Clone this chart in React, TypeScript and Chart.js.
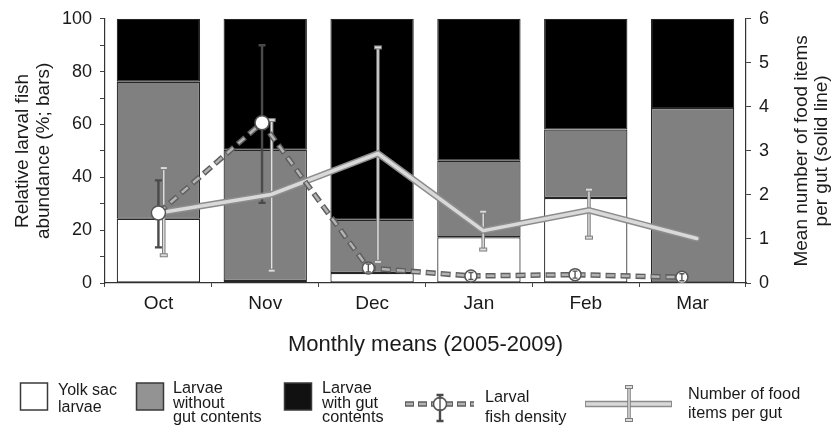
import React, { useEffect, useRef } from 'react';
import { Chart, registerables } from 'chart.js';

Chart.register(...registerables);

// ---------- data ----------
const months = ['Oct', 'Nov', 'Dec', 'Jan', 'Feb', 'Mar'];

// relative larval fish abundance (%), stacked bars
const yolkSac = [24.3, 0.8, 3.8, 17.3, 32.2, 0];
const withoutGut = [51.9, 49.6, 20.1, 29.0, 25.9, 66.2];
const withGut = [23.8, 49.6, 76.1, 53.7, 41.9, 33.8];

// mean number of food items per gut (solid line, right axis)
const foodPos = [0, 1.055, 2.055, 3.04, 4.03, 5.04];
const foodMean = [1.59, 2.01, 2.94, 1.19, 1.65, 1.01];
const foodErrPos = [0.05, 1.06, 2.055, 3.04, 4.03];
const foodLow = [0.63, 0.28, 0.48, 0.76, 1.03];
const foodHigh = [2.61, 3.7, 5.35, 1.62, 2.12];

// larval fish density (dashed line)
const densityPos = [0, 0.97, 1.965, 2.925, 3.9, 4.9];
const density = [1.59, 3.64, 0.34, 0.16, 0.19, 0.13];
const densityLow = [0.81, 1.82, 0.25, 0.08, 0.11, 0.05];
const densityHigh = [2.33, 5.4, 0.43, 0.24, 0.27, 0.21];

const leftTitle = ['Relative larval fish', 'abundance (%; bars)'];
const rightTitle = ['Mean number of food items', 'per gut (solid line)'];
const xTitle = 'Monthly means (2005-2009)';

const FONT = '"Liberation Sans", Arial, Helvetica, sans-serif';
const TEXT = '#1a1a1a';

// ---------- drawing helpers ----------
function drawFoodErr(ctx: CanvasRenderingContext2D, x: number, yT: number, yB: number) {
  ctx.save();
  ctx.lineCap = 'butt';
  ctx.strokeStyle = '#7d7d7d';
  ctx.lineWidth = 3.5;
  ctx.beginPath();
  ctx.moveTo(x, yT);
  ctx.lineTo(x, yB);
  ctx.stroke();
  ctx.strokeStyle = '#e2e2e2';
  ctx.lineWidth = 1.4;
  ctx.beginPath();
  ctx.moveTo(x, yT);
  ctx.lineTo(x, yB);
  ctx.stroke();
  for (const y of [yT, yB]) {
    ctx.fillStyle = '#dcdcdc';
    ctx.strokeStyle = '#7d7d7d';
    ctx.lineWidth = 1;
    ctx.fillRect(x - 3.5, y - 1.5, 7, 3);
    ctx.strokeRect(x - 3.5, y - 1.5, 7, 3);
  }
  ctx.restore();
}

function drawDensityErr(ctx: CanvasRenderingContext2D, x: number, yT: number, yB: number, small: boolean) {
  ctx.save();
  ctx.strokeStyle = small ? '#555555' : '#4a4a4a';
  ctx.lineWidth = small ? 1.4 : 2.4;
  ctx.lineCap = 'butt';
  ctx.beginPath();
  ctx.moveTo(x, yT);
  ctx.lineTo(x, yB);
  const w = small ? 2.5 : 3.5;
  ctx.moveTo(x - w, yT);
  ctx.lineTo(x + w, yT);
  ctx.moveTo(x - w, yB);
  ctx.lineTo(x + w, yB);
  ctx.stroke();
  ctx.restore();
}

function drawErrors(chart: any, smallOnly: boolean) {
  const ctx: CanvasRenderingContext2D = chart.ctx;
  const xs = chart.scales.xl;
  const ys = chart.scales.yr;
  if (!smallOnly) {
    foodLow.forEach((lo, i) => {
      const x = xs.getPixelForValue(foodErrPos[i]);
      drawFoodErr(ctx, x, ys.getPixelForValue(foodHigh[i]), ys.getPixelForValue(lo));
    });
  }
  density.forEach((_v, i) => {
    const x = xs.getPixelForValue(densityPos[i]);
    const yT = ys.getPixelForValue(densityHigh[i]);
    const yB = ys.getPixelForValue(densityLow[i]);
    const small = yB - yT < 14;
    if (small === smallOnly) drawDensityErr(ctx, x, yT, yB, small);
  });
}

function textLines(ctx: CanvasRenderingContext2D, lines: string[], x: number, yCenters: number[], size: number) {
  ctx.font = `${size}px ${FONT}`;
  ctx.fillStyle = TEXT;
  ctx.textAlign = 'left';
  ctx.textBaseline = 'middle';
  lines.forEach((l, i) => ctx.fillText(l, x, yCenters[i]));
}

function drawRotated(ctx: CanvasRenderingContext2D, lines: string[], xs: number[], y: number, size: number) {
  ctx.font = `${size}px ${FONT}`;
  ctx.fillStyle = TEXT;
  ctx.textAlign = 'center';
  ctx.textBaseline = 'middle';
  lines.forEach((l, i) => {
    ctx.save();
    ctx.translate(xs[i], y);
    ctx.rotate(-Math.PI / 2);
    ctx.fillText(l, 0, 0);
    ctx.restore();
  });
}

function drawLegend(ctx: CanvasRenderingContext2D) {
  ctx.save();
  const box = (x: number, fill: string) => {
    ctx.fillStyle = fill;
    ctx.fillRect(x, 383, 27, 27);
    ctx.strokeStyle = '#3a3a3a';
    ctx.lineWidth = 1.5;
    ctx.strokeRect(x, 383, 27, 27);
  };
  box(20.5, '#ffffff');
  textLines(ctx, ['Yolk sac', 'larvae'], 58, [391, 408], 16);
  box(136.5, '#939393');
  textLines(ctx, ['Larvae', 'without', 'gut contents'], 173, [389, 403.5, 418], 16.3);
  box(284.5, '#111111');
  textLines(ctx, ['Larvae', 'with gut', 'contents'], 322, [389, 403.5, 418], 16.3);

  // dashed density symbol
  ctx.lineCap = 'butt';
  ctx.strokeStyle = '#5f5f5f';
  ctx.lineWidth = 5.5;
  ctx.setLineDash([9, 4]);
  ctx.beginPath();
  ctx.moveTo(405, 404);
  ctx.lineTo(474, 404);
  ctx.stroke();
  ctx.strokeStyle = '#b3b3b3';
  ctx.lineWidth = 2.5;
  ctx.setLineDash([7, 6]);
  ctx.lineDashOffset = -1;
  ctx.beginPath();
  ctx.moveTo(405, 404);
  ctx.lineTo(474, 404);
  ctx.stroke();
  ctx.setLineDash([]);
  ctx.lineDashOffset = 0;
  drawDensityErr(ctx, 440, 395, 421, false);
  ctx.beginPath();
  ctx.arc(440, 404, 6.5, 0, Math.PI * 2);
  ctx.fillStyle = '#ffffff';
  ctx.fill();
  ctx.strokeStyle = '#555555';
  ctx.lineWidth = 1.5;
  ctx.stroke();
  drawDensityErr(ctx, 440, 398, 410, true);
  textLines(ctx, ['Larval', 'fish density'], 485, [398, 418], 16.3);

  // solid food symbol
  ctx.lineCap = 'butt';
  ctx.strokeStyle = '#8c8c8c';
  ctx.lineWidth = 6.5;
  ctx.beginPath();
  ctx.moveTo(585, 404);
  ctx.lineTo(672, 404);
  ctx.stroke();
  ctx.strokeStyle = '#d9d9d9';
  ctx.lineWidth = 3.5;
  ctx.beginPath();
  ctx.moveTo(586, 404);
  ctx.lineTo(671, 404);
  ctx.stroke();
  drawFoodErr(ctx, 629, 387, 420);
  textLines(ctx, ['Number of food', 'items per gut'], 688, [395, 414], 16.3);
  ctx.restore();
}

const overlayPlugin = {
  id: 'overlay',
  beforeDraw(chart: any) {
    chart.$errDrawn = false;
  },
  beforeDatasetDraw(chart: any, args: any) {
    const ds = chart.data.datasets[args.index];
    if (ds.type === 'line' && !chart.$errDrawn) {
      drawErrors(chart, false);
      chart.$errDrawn = true;
    }
  },
  afterDatasetsDraw(chart: any) {
    drawErrors(chart, true);
  },
  afterDraw(chart: any) {
    const ctx: CanvasRenderingContext2D = chart.ctx;
    const area = chart.chartArea;
    const midY = (area.top + area.bottom) / 2;
    ctx.save();
    drawRotated(ctx, leftTitle, [23, 44], midY, 19);
    drawRotated(ctx, rightTitle, [802, 822], midY, 19);
    ctx.font = `22px ${FONT}`;
    ctx.fillStyle = TEXT;
    ctx.textAlign = 'center';
    ctx.textBaseline = 'middle';
    ctx.fillText(xTitle, (area.left + area.right) / 2, 345);
    drawLegend(ctx);
    ctx.restore();
  },
};

export default function App() {
  const ref = useRef<HTMLCanvasElement | null>(null);

  useEffect(() => {
    if (!ref.current) return;
    Chart.defaults.font.family = FONT;
    const barCommon = {
      type: 'bar' as const,
      borderColor: '#262626',
      borderWidth: 1.2,
      borderSkipped: false,
      xAxisID: 'x',
      yAxisID: 'y',
      stack: 's',
      grouped: false,
      order: 10,
      categoryPercentage: 1,
      barPercentage: 0.78,
    };
    const yTickFont = { family: FONT, size: 18 };
    const xTickFont = { family: FONT, size: 19 };
    const chart = new Chart(ref.current, {
      type: 'bar',
      data: {
        labels: months,
        datasets: [
          { ...barCommon, label: 'Yolk sac larvae', data: yolkSac, backgroundColor: '#ffffff' },
          { ...barCommon, label: 'Larvae without gut contents', data: withoutGut, backgroundColor: '#808080' },
          { ...barCommon, label: 'Larvae with gut contents', data: withGut, backgroundColor: '#000000' },
          {
            type: 'line',
            label: 'Number of food items per gut (outline)',
            data: foodMean.map((v, i) => ({ x: foodPos[i], y: v })),
            xAxisID: 'xl',
            yAxisID: 'yr',
            borderColor: '#8c8c8c',
            borderWidth: 6.5,
            borderCapStyle: 'round',
            pointRadius: 0,
            tension: 0,
            order: 4,
          },
          {
            type: 'line',
            label: 'Number of food items per gut',
            data: foodMean.map((v, i) => ({ x: foodPos[i], y: v })),
            xAxisID: 'xl',
            yAxisID: 'yr',
            borderColor: '#d9d9d9',
            borderWidth: 3.5,
            borderCapStyle: 'round',
            pointRadius: 0,
            tension: 0,
            order: 3,
          },
          {
            type: 'line',
            label: 'Larval fish density (outline)',
            data: density.map((v, i) => ({ x: densityPos[i], y: v })),
            xAxisID: 'xl',
            yAxisID: 'yr',
            borderColor: '#5f5f5f',
            borderWidth: 5.5,
            borderDash: [10, 5],
            pointRadius: 0,
            tension: 0,
            order: 2,
          },
          {
            type: 'line',
            label: 'Larval fish density',
            data: density.map((v, i) => ({ x: densityPos[i], y: v })),
            xAxisID: 'xl',
            yAxisID: 'yr',
            borderColor: '#b3b3b3',
            borderWidth: 2.5,
            borderDash: [8, 7],
            borderDashOffset: -1,
            pointRadius: 0,
            tension: 0,
            order: 1,
          },
          {
            type: 'line',
            label: 'Larval fish density points',
            data: density.map((v, i) => ({ x: densityPos[i], y: v })),
            xAxisID: 'xl',
            yAxisID: 'yr',
            showLine: false,
            pointRadius: [7, 7, 6, 6, 6, 6],
            pointBackgroundColor: '#ffffff',
            pointBorderColor: '#555555',
            pointBorderWidth: 1.5,
            order: 0,
          },
        ] as any,
      },
      options: {
        responsive: false,
        animation: false,
        events: [],
        layout: { padding: { top: 15, left: 0, right: 0, bottom: 0 } },
        plugins: { legend: { display: false }, tooltip: { enabled: false }, title: { display: false } },
        scales: {
          x: {
            type: 'category',
            stacked: true,
            offset: true,
            position: 'bottom',
            grid: { display: true, drawOnChartArea: false, drawTicks: true, tickLength: 4, color: '#444444', offset: true },
            border: { display: true, color: '#333333', width: 1.2 },
            ticks: { font: xTickFont, color: TEXT, padding: 5 },
            afterFit: (s: any) => {
              s.height = 149;
            },
          },
          xl: {
            type: 'linear',
            display: false,
            offset: false,
            bounds: 'data',
            grid: { offset: false },
            min: -0.5,
            max: 5.5,
          },
          y: {
            type: 'linear',
            position: 'left',
            stacked: true,
            min: 0,
            max: 100,
            ticks: {
              stepSize: 10,
              font: yTickFont,
              color: TEXT,
              padding: 8,
              callback: (v: any) => (Number(v) % 20 === 0 ? String(v) : ''),
            },
            grid: { drawOnChartArea: false, drawTicks: true, tickLength: 5, color: '#444444' },
            border: { display: true, color: '#333333', width: 1.2 },
            afterFit: (s: any) => {
              s.width = 105;
            },
          },
          yr: {
            type: 'linear',
            position: 'right',
            min: 0,
            max: 6,
            ticks: { stepSize: 1, font: yTickFont, color: TEXT, padding: 8 },
            grid: { drawOnChartArea: false, drawTicks: true, tickLength: 5, color: '#444444' },
            border: { display: true, color: '#333333', width: 1.2 },
            afterFit: (s: any) => {
              s.width = 90;
            },
          },
        },
      } as any,
      plugins: [overlayPlugin],
    });
    return () => chart.destroy();
  }, []);

  return (
    <canvas
      ref={ref}
      width={836}
      height={432}
      style={{ position: 'fixed', left: 0, top: 0, width: 836, height: 432, display: 'block', background: '#ffffff' }}
    />
  );
}
